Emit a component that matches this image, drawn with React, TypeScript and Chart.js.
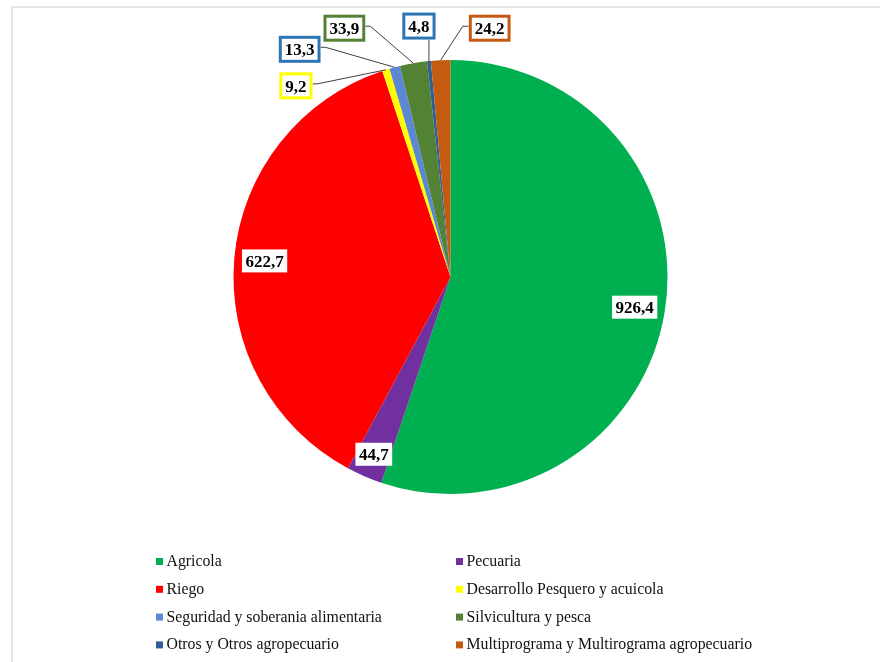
import React, { useEffect, useRef } from "react";
import { Chart, registerables } from "chart.js";

Chart.register(...registerables);

const categories = [
  "Agricola",
  "Pecuaria",
  "Riego",
  "Desarrollo Pesquero y acuicola",
  "Seguridad y soberania alimentaria",
  "Silvicultura y pesca",
  "Otros y Otros agropecuario",
  "Multiprograma y Multirograma agropecuario",
];
const values = [926.4, 44.7, 622.7, 9.2, 13.3, 33.9, 4.8, 24.2];
const sliceColors = [
  "#00B050",
  "#7030A0",
  "#FF0000",
  "#FFFF00",
  "#5B87D3",
  "#548235",
  "#2E5E94",
  "#C55A11",
];
const labelBorderColors = [
  "",
  "",
  "",
  "#FFFF00",
  "#2E75B6",
  "#548235",
  "#2E75B6",
  "#C55A11",
];
// label placement: inside -> radial fraction; outside -> offset of box centre from arc edge anchor
const labelPlacement: Array<{ inside?: number; dx?: number; dy?: number }> = [
  { inside: 0.86 },
  { inside: 0.89 },
  { inside: 0.86 },
  { dx: -90, dy: 16 },
  { dx: -95, dy: -18 },
  { dx: -69, dy: -35 },
  { dx: -10, dy: -35 },
  { dx: 49, dy: -32 },
];

const fmt = (v: number) => v.toFixed(1).replace(".", ",");

const framePlugin = {
  id: "frame",
  beforeDraw(chart: any) {
    const ctx = chart.ctx;
    ctx.save();
    ctx.fillStyle = "#ffffff";
    ctx.fillRect(0, 0, chart.width, chart.height);
    ctx.fillStyle = "#e1e5ea";
    ctx.fillRect(11, 6, chart.width - 11, 2);
    ctx.fillRect(11, 6, 2, chart.height - 6);
    ctx.restore();
  },
};

const labelPlugin = {
  id: "valueLabels",
  afterDatasetsDraw(chart: any) {
    const ctx = chart.ctx;
    const meta = chart.getDatasetMeta(0);
    ctx.save();
    ctx.font = 'bold 17px "Liberation Serif"';
    ctx.textAlign = "center";
    ctx.textBaseline = "alphabetic";
    meta.data.forEach((arc: any, i: number) => {
      const p = arc.getProps(["x", "y", "startAngle", "endAngle", "outerRadius"], true);
      const mid = (p.startAngle + p.endAngle) / 2;
      const text = fmt(values[i]);
      const tw = ctx.measureText(text).width;
      const place = labelPlacement[i];
      if (place.inside !== undefined) {
        const cx = p.x + Math.cos(mid) * p.outerRadius * place.inside;
        const cy = p.y + Math.sin(mid) * p.outerRadius * place.inside;
        const w = tw + 7;
        const h = 23;
        ctx.fillStyle = "#ffffff";
        ctx.fillRect(cx - w / 2, cy - h / 2, w, h);
        ctx.fillStyle = "#000000";
        ctx.fillText(text, cx, cy + 6);
      } else {
        const ax = p.x + Math.cos(mid) * p.outerRadius;
        const ay = p.y + Math.sin(mid) * p.outerRadius;
        const cx = ax + (place.dx || 0);
        const cy = ay + (place.dy || 0);
        const w = tw + 12;
        const h = 27;
        const left = cx - w / 2;
        const right = cx + w / 2;
        // leader line
        ctx.strokeStyle = "#404040";
        ctx.lineWidth = 1;
        ctx.beginPath();
        if (ax > left + 3 && ax < right - 3) {
          ctx.moveTo(ax, ay);
          ctx.lineTo(ax, cy + h / 2);
        } else if (ax >= right) {
          ctx.moveTo(ax, ay);
          ctx.lineTo(right + 5, cy - 2);
          ctx.lineTo(right, cy - 2);
        } else {
          ctx.moveTo(ax, ay);
          ctx.lineTo(left - 6, cy - 2);
          ctx.lineTo(left, cy - 2);
        }
        ctx.stroke();
        ctx.fillStyle = "#ffffff";
        ctx.fillRect(left, cy - h / 2, w, h);
        ctx.strokeStyle = labelBorderColors[i];
        ctx.lineWidth = 3;
        ctx.strokeRect(left + 1.5, cy - h / 2 + 1.5, w - 3, h - 3);
        ctx.fillStyle = "#000000";
        ctx.fillText(text, cx, cy + 6);
      }
    });
    ctx.restore();
  },
};

const legendPlugin = {
  id: "gridLegend",
  afterDraw(chart: any) {
    const ctx = chart.ctx;
    const labels: string[] = chart.data.labels;
    const cols = [156, 456];
    const y0 = 558;
    const rowH = 27.8;
    ctx.save();
    ctx.font = '15.8px "Liberation Serif"';
    ctx.textAlign = "left";
    ctx.textBaseline = "alphabetic";
    labels.forEach((lab, i) => {
      const x = cols[i % 2];
      const y = y0 + Math.floor(i / 2) * rowH;
      ctx.fillStyle = sliceColors[i];
      ctx.fillRect(x, y, 7, 7);
      ctx.fillStyle = "#111111";
      ctx.fillText(lab, x + 10.5, y + 8);
    });
    ctx.restore();
  },
};

export default function App() {
  const ref = useRef<HTMLCanvasElement | null>(null);
  useEffect(() => {
    if (!ref.current) return;
    const chart = new Chart(ref.current, {
      type: "pie",
      data: {
        labels: categories,
        datasets: [
          {
            data: values,
            backgroundColor: sliceColors,
            borderWidth: 0,
          },
        ],
      },
      options: {
        responsive: false,
        animation: false,
        layout: { padding: { left: 233.5, right: 212.5, top: 60, bottom: 168 } },
        plugins: {
          legend: { display: false },
          tooltip: { enabled: false },
        },
      },
      plugins: [framePlugin, labelPlugin, legendPlugin],
    });
    return () => chart.destroy();
  }, []);
  return (
    <div style={{ position: "absolute", left: 0, top: 0, width: 880, height: 662 }}>
      <canvas ref={ref} width={880} height={662} />
    </div>
  );
}
